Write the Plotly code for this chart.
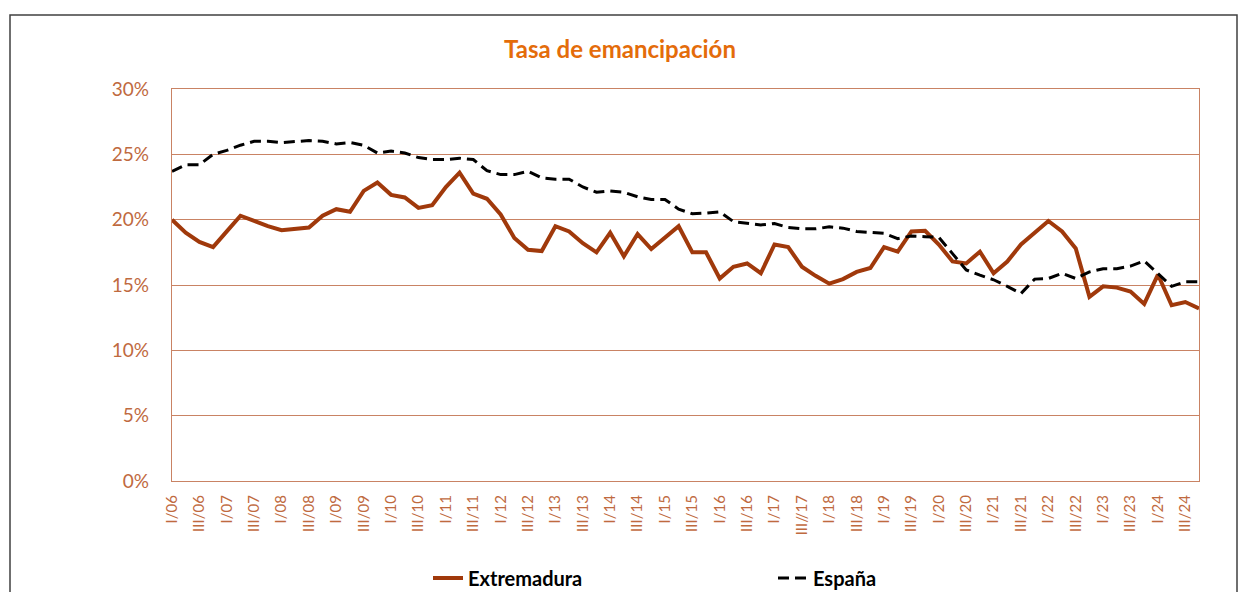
import plotly.graph_objects as go

quarters = [f"{q}/{y:02d}" for y in range(6, 25) for q in ["I", "II", "III", "IV"]]

tick_labels = ["I/06", "III/06", "I/07", "III/07", "I/08", "III/08", "I/09", "III/09",
               "I/10", "III/10", "I/11", "III/11", "I/12", "III/12", "I/13", "III/13",
               "I/14", "III/14", "I/15", "III/15", "I/16", "III/16", "I/17", "III//17",
               "I/18", "III/18", "I/19", "III/19", "I/20", "III/20", "I/21", "III/21",
               "I/22", "III/22", "I/23", "III/23", "I/24", "III/24"]

extremadura = [20.0, 19.0, 18.3, 17.9, 19.1, 20.3, 19.9, 19.5, 19.2, 19.3,
               19.4, 20.3, 20.8, 20.6, 22.2, 22.85, 21.9, 21.7, 20.9, 21.1,
               22.5, 23.6, 22.0, 21.6, 20.4, 18.6, 17.7, 17.6, 19.5, 19.1,
               18.2, 17.5, 19.0, 17.2, 18.9, 17.75, 18.65, 19.5, 17.5, 17.5,
               15.5, 16.4, 16.65, 15.9, 18.1, 17.9, 16.4, 15.7, 15.1, 15.45,
               16.0, 16.3, 17.9, 17.55, 19.1, 19.15, 18.1, 16.8, 16.65, 17.55,
               15.9, 16.8, 18.1, 19.0, 19.9, 19.1, 17.8, 14.1, 14.9, 14.8,
               14.5, 13.55, 15.8, 13.45, 13.7, 13.2]

espana = [23.7, 24.2, 24.2, 25.0, 25.3, 25.7, 26.0, 26.0, 25.9, 26.0,
          26.05, 26.0, 25.8, 25.9, 25.7, 25.1, 25.25, 25.1, 24.75, 24.6,
          24.6, 24.7, 24.6, 23.75, 23.45, 23.45, 23.7, 23.2, 23.1, 23.1,
          22.5, 22.1, 22.2, 22.1, 21.75, 21.55, 21.55, 20.8, 20.45, 20.5,
          20.6, 19.85, 19.7, 19.6, 19.7, 19.4, 19.3, 19.3, 19.45, 19.35,
          19.1, 19.0, 18.95, 18.55, 18.75, 18.7, 18.65, 17.4, 16.15, 15.75,
          15.4, 14.9, 14.35, 15.45, 15.5, 15.9, 15.5, 16.0, 16.25, 16.25,
          16.45, 16.85, 15.85, 14.9, 15.25, 15.25]

y_ticks = [0, 5, 10, 15, 20, 25, 30]

FONT = "Lato"
TICK_COLOR = "#BF6A3F"
GRID_COLOR = "#C98364"

fig = go.Figure()
fig.add_trace(go.Scatter(
    x=quarters, y=extremadura, name="<b>Extremadura</b>", mode="lines",
    line=dict(color="#A0390B", width=4),
))
fig.add_trace(go.Scatter(
    x=quarters, y=espana, name="<b>España</b>", mode="lines",
    line=dict(color="#000000", width=3, dash="11px,6px"),
))

# page body has an 8px margin: figure coordinates = screen coordinates - 8
OFF = 8
W, H = 1249 - OFF, 640
L, R, T, B = 172 - OFF, 1199 - OFF, 89 - OFF, 481 - OFF
pw, ph = R - L, B - T

fig.update_layout(
    width=W, height=H,
    margin=dict(l=L, r=W - R, t=T, b=H - B),
    paper_bgcolor="white", plot_bgcolor="white",
    font=dict(family=FONT),
    title=dict(text="<b>Tasa de emancipación</b>", x=(620 - OFF) / W, xref="container",
               xanchor="center", y=1 - (50 - OFF) / H, yref="container", yanchor="middle",
               font=dict(size=24, color="#E46C0A", family=FONT)),
    showlegend=True,
    legend=dict(orientation="h", x=(420 - L) / pw, xanchor="left",
                y=(B - (578 - OFF)) / ph, yanchor="middle",
                font=dict(size=20, color="#000000", family=FONT),
                entrywidth=300, entrywidthmode="pixels",
                bgcolor="rgba(0,0,0,0)"),
    shapes=[dict(type="rect", xref="paper", yref="paper",
                 x0=(10 - OFF - L) / pw, x1=(1237 - OFF - L) / pw,
                 y0=(B - 700) / ph, y1=(B - (15 - OFF)) / ph,
                 line=dict(color="#404040", width=1.5), layer="below")],
)

fig.update_xaxes(
    type="category", range=[0, len(quarters) - 1],
    tickmode="array", tickvals=quarters[::2], ticktext=tick_labels,
    tickangle=-90, tickfont=dict(size=15, color=TICK_COLOR, family=FONT),
    showgrid=False, showline=True, linecolor=GRID_COLOR, linewidth=1.3,
    mirror=True, ticks="", ticklabelstandoff=7, zeroline=False,
)
fig.update_yaxes(
    range=[0, 30], tickmode="array", tickvals=y_ticks,
    ticktext=[f"{v}%" for v in y_ticks],
    tickfont=dict(size=19, color=TICK_COLOR, family=FONT),
    showgrid=True, gridcolor=GRID_COLOR, gridwidth=1.3,
    showline=True, linecolor=GRID_COLOR, linewidth=1.3, mirror=True,
    ticks="", ticklabelstandoff=18, zeroline=False,
)

fig.write_html("out.html")
